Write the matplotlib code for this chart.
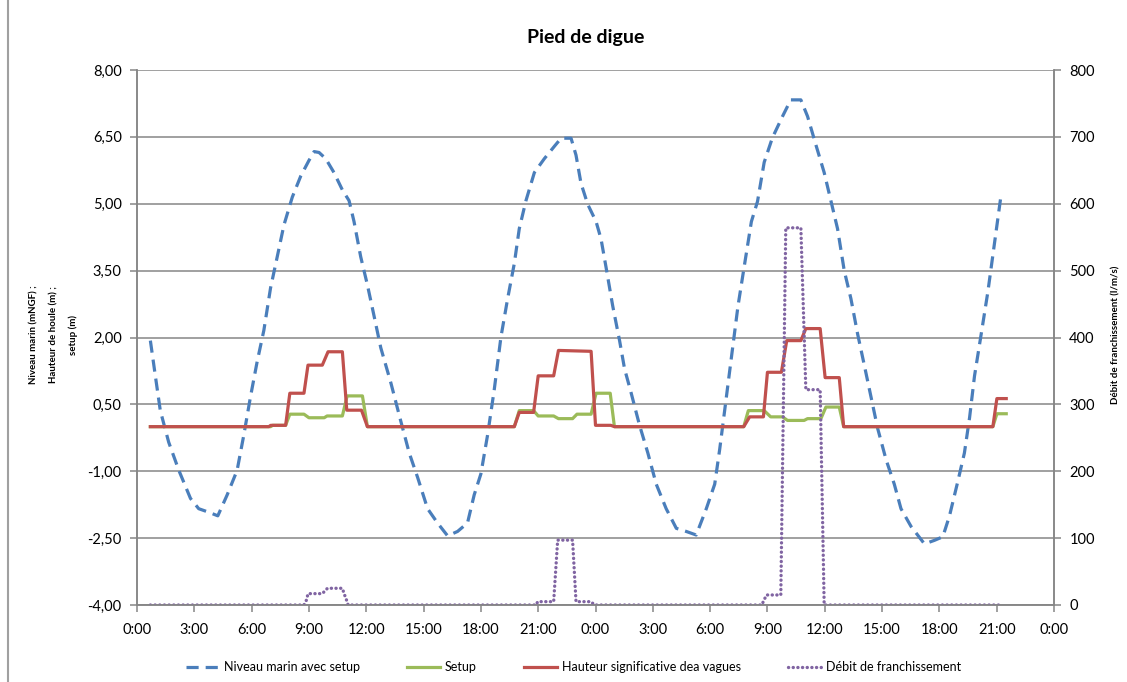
import matplotlib
matplotlib.use("Agg")
import matplotlib.pyplot as plt
from matplotlib.ticker import FixedLocator, FuncFormatter
from matplotlib.lines import Line2D

plt.rcParams['font.family'] = ['Lato', 'DejaVu Sans']

# hours counted from 0:00 of the first day
niveau_h = [0.70, 0.96, 1.22, 1.66, 2.19, 2.80, 3.23, 3.76, 4.23, 4.72, 5.24, 5.59, 5.94,
            6.29, 6.64, 6.99, 7.34, 7.69, 8.13, 8.57, 9.00, 9.27, 9.53, 9.88, 10.31, 10.75,
            11.10, 11.36, 11.71, 12.06, 12.41, 12.76, 13.29, 13.81, 14.25, 14.69, 15.21,
            15.73, 16.26, 16.78, 17.30, 17.65, 18.00, 18.35, 18.70, 19.05, 19.40, 19.75,
            20.01, 20.36, 20.80, 21.32, 21.85, 22.20, 22.72, 22.98, 23.24, 23.59, 24.03,
            24.29, 24.55, 24.90, 25.26, 25.52, 25.87, 26.30, 26.74, 27.18, 27.70, 28.23,
            28.75, 29.27, 29.80, 30.24, 30.50, 30.76, 31.11, 31.46, 31.81, 32.16, 32.48,
            32.83, 33.26, 33.79, 34.22, 34.75, 35.10, 35.53, 35.97, 36.32, 36.67, 37.02,
            37.37, 37.72, 38.07, 38.42, 38.77, 39.21, 39.64, 39.99, 40.52, 41.22, 41.74,
            42.18, 42.53, 42.97, 43.31, 43.58, 43.84, 44.19, 44.54, 44.89, 45.24]
niveau_v = [1.93, 1.14, 0.36, -0.35, -0.98, -1.61, -1.84, -1.92, -2.00, -1.53, -0.98, -0.19, 0.67,
            1.46, 2.16, 3.11, 3.81, 4.52, 5.15, 5.62, 5.97, 6.17, 6.15, 6.01, 5.70, 5.31,
            5.07, 4.60, 3.81, 3.18, 2.48, 1.77, 0.98, 0.12, -0.59, -1.14, -1.84,
            -2.16, -2.45, -2.35, -2.16, -1.53, -1.06, -0.19, 0.83, 2.01, 2.87, 3.66,
            4.44, 5.07, 5.70, 6.01, 6.29, 6.47, 6.47, 6.09, 5.46, 4.99, 4.60,
            4.21, 3.58, 2.71, 1.93, 1.30, 0.75, 0.04, -0.59, -1.29, -1.84, -2.28,
            -2.35, -2.43, -1.84, -1.29, -0.51, 0.36, 1.54, 2.71, 3.66, 4.60, 5.05,
            5.93, 6.48, 6.96, 7.33, 7.33, 6.96, 6.33, 5.70, 5.07, 4.44, 3.50,
            2.87, 2.08, 1.38, 0.67, -0.04, -0.74, -1.29, -1.84, -2.24, -2.63, -2.55,
            -2.47, -2.00, -1.22, -0.59, 0.20, 1.14, 2.08, 3.03, 4.13, 5.23]

setup_h = [0.70, 7.0, 7.1, 7.78, 8.0, 8.74, 9.0, 9.8, 9.95, 10.75, 11.0, 11.8, 12.06,
           19.75, 20.01, 20.76, 21.0, 21.81, 22.06, 22.8, 23.03, 23.77, 24.03, 24.77, 24.99,
           31.76, 32.0, 32.83, 33.17, 33.79, 34.05, 34.92, 35.1, 35.8, 36.06, 36.76, 36.99,
           44.8, 45.01, 45.5]
setup_v = [0.0, 0.0, 0.03, 0.03, 0.28, 0.28, 0.20, 0.20, 0.24, 0.24, 0.69, 0.69, 0.0,
           0.0, 0.36, 0.36, 0.24, 0.24, 0.18, 0.18, 0.28, 0.28, 0.75, 0.75, 0.0,
           0.0, 0.36, 0.36, 0.22, 0.22, 0.14, 0.14, 0.18, 0.18, 0.44, 0.44, 0.0,
           0.0, 0.29, 0.29]

houle_h = [0.70, 6.9, 7.0, 7.78, 8.0, 8.74, 8.95, 9.7, 10.0, 10.75, 10.98, 11.75, 12.06,
           19.75, 20.01, 20.76, 21.0, 21.81, 22.06, 23.77, 24.0, 24.8, 24.99,
           31.76, 32.07, 32.79, 33.0, 33.73, 34.01, 34.75, 35.01, 35.76, 36.02, 36.76, 36.99,
           44.8, 45.01, 45.5]
houle_v = [0.0, 0.0, 0.03, 0.03, 0.75, 0.75, 1.38, 1.38, 1.68, 1.68, 0.37, 0.37, 0.0,
           0.0, 0.32, 0.32, 1.14, 1.14, 1.71, 1.69, 0.03, 0.03, 0.0,
           0.0, 0.22, 0.22, 1.22, 1.22, 1.93, 1.93, 2.20, 2.20, 1.10, 1.10, 0.0,
           0.0, 0.63, 0.63]

debit_h = [0.70, 8.74, 8.88, 8.95, 9.7, 9.97, 10.75, 10.84, 10.96, 11.05,
           20.9, 20.97, 21.81, 22.02, 22.8, 22.98, 23.77, 23.94,
           32.7, 32.95, 33.7, 33.96, 34.75, 35.01, 35.76, 35.97, 45.3]
debit_v = [0, 0, 8, 17, 17, 25, 25, 17, 8, 0,
           0, 5, 5, 97, 97, 5, 5, 0,
           0, 15, 15, 564, 564, 322, 322, 0, 0]

left_ticks = [8.0, 6.5, 5.0, 3.5, 2.0, 0.5, -1.0, -2.5, -4.0]
right_ticks = [0, 100, 200, 300, 400, 500, 600, 700, 800]
x_ticks = list(range(0, 49, 3))

blue = '#4A7EBB'
green = '#9BBB59'
red = '#C0504D'
purple = '#8064A2'
grey = '#868686'

fig = plt.figure(figsize=(11.27, 6.82), dpi=100)
ax = fig.add_axes([137/1127, 1 - 605/682, (1054 - 137)/1127, (605 - 70)/682])
ax2 = ax.twinx()

ax.plot(niveau_h, niveau_v, color=blue, lw=2.3, dashes=(3.8, 2.2), label='Niveau marin avec setup')
ax.plot(setup_h, setup_v, color=green, lw=2.3, label='Setup')
ax.plot(houle_h, houle_v, color=red, lw=2.3, label='Hauteur significative dea vagues')
ax2.plot(debit_h, debit_v, color=purple, lw=2.4, dashes=(0.05, 1.35), dash_capstyle='round',
         label='Débit de franchissement')

ax.set_xlim(0, 48)
ax.set_ylim(-4, 8)
ax2.set_ylim(0, 800)
ax.xaxis.set_major_locator(FixedLocator(x_ticks))
ax.xaxis.set_major_formatter(FuncFormatter(lambda v, p: f"{int(v) % 24}:00"))
ax.yaxis.set_major_locator(FixedLocator(left_ticks))
ax.yaxis.set_major_formatter(FuncFormatter(lambda v, p: f"{v:.2f}".replace('.', ',')))
ax2.yaxis.set_major_locator(FixedLocator(right_ticks))

ax.grid(axis='y', color=grey, lw=1.1)
ax.set_axisbelow(True)
for a in (ax, ax2):
    a.spines['top'].set_visible(False)
    for s in ('left', 'right', 'bottom'):
        a.spines[s].set_color(grey)
        a.spines[s].set_linewidth(1.1)
    a.tick_params(colors=grey, labelcolor='black', labelsize=10.5, length=5, width=1.1)
ax.tick_params(axis='x', pad=8)
ax.tick_params(axis='y', pad=6)
ax2.tick_params(axis='y', pad=6)

fig.text(0.52, 1 - 38/682, 'Pied de digue', ha='center', va='center', fontsize=14, fontweight='bold')

ylab = ['Niveau marin (mNGF) ;', 'Hauteur de houle (m) ;', 'setup (m)']
for xpos, txt in zip([34, 54, 73], ylab):
    fig.text(xpos/1127, 1 - 335/682, txt, rotation=90, ha='center', va='center',
             fontsize=7, fontweight='bold')
fig.text(1116/1127, 1 - 335/682, 'Débit de franchissement (l/m/s)', rotation=90,
         ha='center', va='center', fontsize=7, fontweight='bold')

fig.add_artist(Line2D([8/1127, 8/1127], [0, 1], color='#A0A0A0', lw=1.5))

h1, l1 = ax.get_legend_handles_labels()
h2, l2 = ax2.get_legend_handles_labels()
fig.legend(h1 + h2, l1 + l2, loc='center', bbox_to_anchor=(0.509, 1 - 667/682), ncol=4,
           frameon=False, fontsize=9, columnspacing=3.8, handlelength=2.6, handletextpad=0.4)

fig.savefig('out.png', dpi=100)
